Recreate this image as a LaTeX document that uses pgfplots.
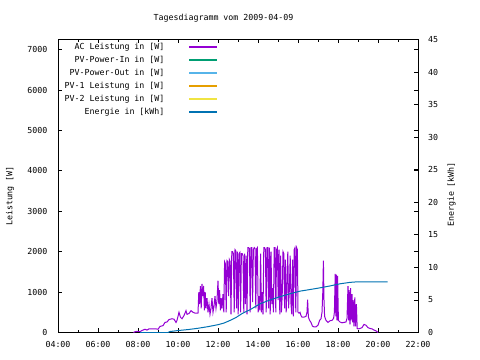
\documentclass[border=0pt]{standalone}
\usepackage{pgfplots}
\pgfplotsset{compat=1.18}
\usepackage{fontspec}
\setmainfont{DejaVu Sans Mono}
\definecolor{cAC}{HTML}{9400D3}
\definecolor{cIn}{HTML}{009E73}
\definecolor{cOut}{HTML}{56B4E9}
\definecolor{cPa}{HTML}{E69F00}
\definecolor{cPb}{HTML}{F0E442}
\definecolor{cE}{HTML}{0072B2}
\begin{document}
\fontsize{8.3bp}{10bp}\selectfont
\begin{tikzpicture}
\path[use as bounding box] (0,0) rectangle (480bp,360bp);
\pgfplotsset{
 gp/.style={scale only axis, width=360bp, height=293bp, at={(58bp,27.5bp)}, anchor=south west,
  xmin=4, xmax=22,
  axis line style={line width=1bp},
  tick style={line width=0.8bp,black},
  major tick length=4bp, minor tick length=2.5bp, tick align=inside,
  tick label style={inner sep=0pt, font=\fontsize{8.3bp}{10bp}\selectfont},
  /pgf/number format/assume math mode=true, /pgf/number format/1000 sep={},
 },
}
\begin{axis}[gp, ymin=0, ymax=7250, ytick={0,1000,...,7000}, scaled y ticks=false,
  xtick={4,6,...,22}, xticklabels={04:00,06:00,08:00,10:00,12:00,14:00,16:00,18:00,20:00,22:00},
  minor x tick num=1,
  xticklabel style={yshift=-8.5bp}, yticklabel style={xshift=-10.5bp}]
\addplot[cAC, line width=1bp, line join=miter] table {
7.77 0
7.85 20
8.0 30
8.1 20
8.2 50
8.35 80
8.45 60
8.55 90
8.7 90
8.9 90
9.0 80
9.1 150
9.25 170
9.35 250
9.45 260
9.55 320
9.7 340
9.8 330
9.9 250
9.95 300
10.05 500
10.12 380
10.2 340
10.3 420
10.4 540
10.45 450
10.55 470
10.65 540
10.75 500
10.85 480
10.95 480
11.00 480
11.04 1000
11.08 700
11.12 1150
11.16 600
11.20 1200
11.24 900
11.28 1150
11.32 550
11.36 1000
11.40 600
11.45 850
11.50 500
11.55 700
11.60 450
11.65 600
11.70 850
11.75 500
11.80 650
11.85 900
11.90 600
11.95 800
12.00 1280
12.04 700
12.08 1050
12.12 550
12.16 850
12.20 600
12.25 950
12.29 500
12.33 1750
12.37 1700
12.41 500
12.45 1780
12.49 1750
12.53 900
12.57 1800
12.61 1750
12.65 450
12.69 2000
12.73 2000
12.77 1950
12.81 500
12.85 2050
12.89 2020
12.93 600
12.97 2000
13.01 450
13.05 1950
13.09 1980
13.13 500
13.17 1950
13.21 1950
13.25 1900
13.29 500
13.33 1950
13.37 700
13.41 1900
13.45 450
13.49 2100
13.53 2100
13.57 2080
13.61 500
13.65 2100
13.69 2100
13.73 750
13.77 2050
13.81 2100
13.85 2080
13.89 600
13.93 2070
13.97 2100
14.01 500
14.05 900
14.09 550
14.13 1950
14.17 500
14.21 1000
14.25 450
14.29 2100
14.33 2100
14.37 2050
14.41 500
14.45 2100
14.49 2100
14.53 600
14.57 2100
14.61 450
14.65 2000
14.69 700
14.73 1100
14.77 500
14.81 2100
14.85 2100
14.89 500
14.93 2050
14.97 2100
15.01 800
15.05 2050
15.09 450
15.13 1900
15.17 500
15.21 900
15.25 2000
15.29 1950
15.33 600
15.37 1800
15.41 500
15.45 1200
15.49 2000
15.53 600
15.57 1100
15.61 1900
15.65 700
15.69 450
15.73 1800
15.77 400
15.81 2050
15.85 2100
15.89 500
15.93 2100
15.97 2050
16.00 500
16.05 480
16.10 500
16.15 420
16.20 380
16.30 380
16.40 400
16.45 500
16.48 810
16.52 380
16.58 300
16.65 250
16.72 160
16.80 140
16.90 140
17.00 180
17.08 300
17.15 340
17.20 500
17.24 1000
17.27 1780
17.30 800
17.33 400
17.40 300
17.50 250
17.60 290
17.70 300
17.78 350
17.82 500
17.86 1450
17.89 400
17.92 1430
17.95 300
17.98 1400
18.02 300
18.10 260
18.20 240
18.30 250
18.40 260
18.45 350
18.50 1150
18.53 300
18.56 1050
18.60 200
18.63 1100
18.66 300
18.70 950
18.73 250
18.76 800
18.80 150
18.84 870
18.88 150
18.92 700
18.96 100
19.00 90
19.10 100
19.20 120
19.30 200
19.40 180
19.50 120
19.60 100
19.70 90
19.80 60
19.90 40
20.00 0
};
\end{axis}
\begin{axis}[gp, ymin=0, ymax=45, axis y line*=right, axis x line=none,
  ytick={0,5,...,45}, yticklabel style={xshift=10bp},
  legend plot pos=right, legend cell align=right,
  legend style={at={(0.4444,0.988)}, anchor=north east, draw=none, fill=none, inner sep=0pt,
    column sep=24bp, row sep=5.3bp,
    nodes={inner sep=0pt, text height=6bp, text depth=1.7bp, font=\fontsize{8.3bp}{10bp}\selectfont}},
  legend image code/.code={\draw[#1, line width=1.3bp] (0bp,0bp) -- (28bp,0bp);}]
\addlegendimage{cAC}
\addlegendentry{AC Leistung in [W]}
\addlegendimage{cIn}
\addlegendentry{PV-Power-In in [W]}
\addlegendimage{cOut}
\addlegendentry{PV-Power-Out in [W]}
\addlegendimage{cPa}
\addlegendentry{PV-1 Leistung in [W]}
\addlegendimage{cPb}
\addlegendentry{PV-2 Leistung in [W]}
\addplot[cE, line width=1bp] table {
8.1 0
9.5 0
9.6 0.15
10.0 0.3
10.5 0.45
11.0 0.65
11.5 0.9
12.0 1.2
12.3 1.45
12.6 1.85
12.9 2.3
13.2 2.9
13.6 3.5
14.1 4.4
14.6 5.0
15.1 5.5
15.6 5.95
16.1 6.35
16.6 6.6
17.1 6.86
17.6 7.15
18.1 7.48
18.6 7.7
18.95 7.78
20.48 7.78
};
\addlegendentry{Energie in [kWh]}
\end{axis}
\node at (223.5bp,342bp) {Tagesdiagramm vom 2009-04-09};
\node[rotate=90] at (10bp,164bp) {Leistung [W]};
\node[rotate=90] at (451.5bp,165.5bp) {Energie [kWh]};
\end{tikzpicture}
\end{document}
